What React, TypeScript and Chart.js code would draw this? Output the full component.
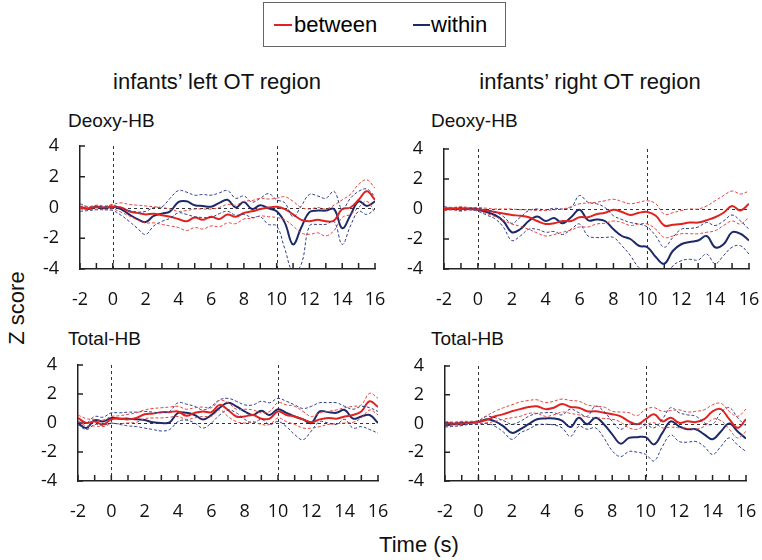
import React, { useEffect, useRef } from "react";
import { Chart, registerables } from "chart.js";

Chart.register(...registerables);

// ---------- data ----------
const TIME = [
  -2, -1.5, -1, -0.5, 0, 0.5, 1, 1.5, 2, 2.5, 3, 3.5, 4, 4.5, 5, 5.5, 6, 6.5, 7, 7.5,
  8, 8.5, 9, 9.5, 10, 10.5, 11, 11.5, 12, 12.5, 13, 13.5, 14, 14.5, 15, 15.5, 16,
];
const REF_LINES_X = [0, 10];
const X_RANGE = [-2, 16];
const Y_RANGE = [-4, 4];

const LEGEND_LABELS = ["between", "within"];
const COL_TITLES = ["infants\u2019 left OT region", "infants\u2019 right OT region"];
const ROW_TITLES = ["Deoxy-HB", "Total-HB"];
const Y_TITLE = "Z score";
const X_TITLE = "Time (s)";

// Panel 1: left OT, Deoxy-HB
const L_DEOXY_WITHIN = [0.05, -0.1, 0.05, -0.05, 0.05, -0.1, -0.45, -0.75, -0.95, -0.55, -0.4, -0.25, 0.35, 0.4, 0.15, 0.1, 0.05, 0.3, 0.5, 0.0, 0.35, -0.1, 0.15, -0.05, -0.25, -1.0, -2.4, -1.3, -0.3, -0.2, -0.2, -0.1, -1.35, -0.5, 0.4, 0.1, 0.4];
const L_DEOXY_WITHIN_HI = [0.25, 0.05, 0.1, 0.05, 0.15, -0.05, -0.2, -0.3, -0.25, 0.0, 0.05, 0.6, 1.1, 1.0, 0.8, 0.85, 0.8, 0.95, 1.1, 0.6, 0.75, 0.35, 0.6, 0.9, 0.5, 0.3, -0.6, 0.1, 0.85, 0.75, 0.6, 1.05, -0.1, 0.6, 1.05, 1.2, 0.7];
const L_DEOXY_WITHIN_LO = [-0.25, -0.2, -0.15, -0.15, -0.2, -0.5, -0.9, -1.35, -1.75, -1.2, -0.9, -0.7, -0.35, -0.45, -0.6, -0.65, -0.65, -0.4, -0.25, -0.5, -0.45, -0.65, -0.6, -1.1, -1.2, -2.7, -4.2, -3.7, -1.2, -1.1, -1.1, -0.9, -2.4, -1.2, -0.25, -0.45, -0.1];
const L_DEOXY_BETWEEN = [0.0, -0.05, 0.05, 0.0, 0.05, 0.0, -0.25, -0.35, -0.45, -0.4, -0.5, -0.6, -0.75, -0.9, -0.65, -0.8, -0.6, -0.75, -0.45, -0.6, -0.35, -0.25, -0.1, 0.0, 0.05, -0.1, -0.45, -0.8, -0.9, -0.8, -0.9, -0.85, -0.1, 0.0, 0.5, 1.05, 0.5];
const L_DEOXY_BETWEEN_HI = [0.1, 0.05, 0.15, 0.1, 0.2, 0.3, 0.2, 0.15, 0.1, 0.05, 0.0, -0.1, -0.25, -0.2, -0.1, -0.1, -0.1, 0.0, 0.2, 0.15, 0.4, 0.45, 0.6, 0.55, 0.6, 0.7, 0.4, 0.0, -0.1, 0.0, -0.1, 0.15, 0.5, 0.85, 1.5, 1.8, 1.25];
const L_DEOXY_BETWEEN_LO = [-0.1, -0.15, -0.1, -0.15, -0.1, -0.3, -0.55, -0.8, -1.0, -1.0, -1.1, -1.2, -1.3, -1.5, -1.3, -1.4, -1.2, -1.25, -1.0, -1.05, -0.75, -0.7, -0.55, -0.6, -0.65, -0.8, -1.2, -1.65, -1.75, -1.65, -1.85, -1.5, -0.65, -0.45, 0.0, 0.4, -0.35];

// Panel 2: right OT, Deoxy-HB
const R_DEOXY_WITHIN = [0.05, 0.0, 0.05, 0.0, -0.05, -0.2, -0.4, -0.8, -1.55, -1.35, -0.8, -0.5, -0.8, -0.6, -0.95, -0.55, -0.05, -0.75, -0.7, -0.8, -1.35, -1.8, -2.0, -2.45, -2.55, -3.2, -3.65, -2.8, -2.35, -2.2, -2.1, -1.8, -2.55, -2.35, -1.55, -1.65, -2.1];
const R_DEOXY_WITHIN_HI = [0.15, 0.1, 0.1, 0.05, 0.05, -0.05, -0.2, -0.5, -0.95, -0.55, -0.1, 0.0, -0.05, 0.05, 0.0, 0.1, 0.9, 0.45, 0.35, 0.1, -0.45, -0.7, -0.9, -1.0, -1.2, -1.8, -2.55, -1.9, -1.35, -1.3, -1.2, -0.9, -1.1, -0.8, -0.4, -0.8, -1.35];
const R_DEOXY_WITHIN_LO = [-0.1, -0.05, -0.1, -0.05, -0.15, -0.4, -0.65, -1.2, -2.1, -1.8, -1.35, -1.35, -1.55, -1.5, -1.7, -1.35, -1.0, -1.8, -1.9, -1.9, -1.9, -2.45, -3.1, -3.9, -4.1, -4.3, -4.7, -3.8, -3.45, -3.35, -3.4, -3.0, -3.65, -3.1, -2.55, -2.45, -3.0];
const R_DEOXY_BETWEEN = [0.0, 0.05, 0.0, 0.05, 0.0, -0.1, -0.2, -0.3, -0.4, -0.45, -0.55, -0.8, -1.0, -0.95, -0.8, -0.8, -0.55, -0.55, -0.35, -0.25, -0.05, -0.2, -0.4, -0.25, -0.2, -0.45, -1.1, -1.05, -1.0, -0.9, -0.9, -0.75, -0.55, -0.25, 0.2, -0.1, 0.35];
const R_DEOXY_BETWEEN_HI = [0.1, 0.1, 0.15, 0.1, 0.1, 0.05, 0.0, 0.0, 0.0, -0.05, -0.05, -0.1, -0.1, -0.05, 0.0, 0.15, 0.35, 0.4, 0.45, 0.55, 0.65, 0.5, 0.35, 0.45, 0.55, 0.35, -0.35, -0.25, -0.1, 0.0, 0.0, 0.2, 0.55, 0.9, 1.2, 1.0, 1.2];
const R_DEOXY_BETWEEN_LO = [-0.1, -0.05, -0.15, -0.05, -0.1, -0.3, -0.5, -0.75, -1.0, -1.15, -1.35, -1.6, -1.8, -1.7, -1.55, -1.4, -1.2, -1.2, -1.0, -0.95, -0.8, -0.9, -1.1, -1.0, -1.0, -1.35, -1.9, -1.8, -1.65, -1.65, -1.65, -1.55, -1.45, -1.1, -0.8, -1.0, -0.55];

// Panel 3: left OT, Total-HB
const L_TOTAL_WITHIN = [0.0, -0.35, 0.2, 0.1, 0.35, 0.3, 0.3, 0.25, 0.2, 0.05, 0.0, 0.05, 0.7, 0.7, 0.55, 0.25, 0.55, 1.05, 1.4, 1.15, 0.8, 0.55, 0.85, 0.55, 0.95, 0.7, 0.45, 0.25, 0.0, 0.8, 0.75, 0.7, 0.9, 0.3, 0.45, 0.55, 0.0];
const L_TOTAL_WITHIN_HI = [0.1, 0.0, 0.45, 0.4, 0.7, 0.7, 0.75, 0.75, 0.8, 0.75, 0.7, 0.8, 1.4, 1.3, 1.15, 0.9, 1.15, 1.6, 1.7, 1.5, 1.25, 1.25, 1.5, 1.4, 1.7, 1.5, 1.25, 1.0, 1.15, 1.4, 1.4, 1.4, 1.15, 0.95, 1.15, 1.05, 0.8];
const L_TOTAL_WITHIN_LO = [-0.1, -0.45, -0.1, -0.15, 0.0, -0.1, -0.2, -0.25, -0.35, -0.45, -0.55, -0.45, 0.1, 0.2, 0.0, -0.35, 0.0, 0.55, 0.9, 0.7, 0.25, 0.0, 0.25, -0.1, 0.1, -0.25, -0.8, -1.15, -0.55, 0.1, 0.0, -0.1, 0.25, -0.35, -0.25, -0.45, -0.7];
const L_TOTAL_BETWEEN = [0.35, 0.0, 0.1, -0.1, 0.25, 0.3, 0.25, 0.35, 0.6, 0.65, 0.75, 0.75, 0.8, 0.5, 0.7, 0.8, 0.75, 1.25, 0.9, 0.45, 0.45, 0.55, 0.3, 0.3, 0.8, 0.55, 0.45, 0.25, 0.05, 0.25, 0.35, 0.3, 0.45, 0.55, 0.8, 1.5, 1.1];
const L_TOTAL_BETWEEN_HI = [0.55, 0.3, 0.25, 0.2, 0.45, 0.5, 0.6, 0.7, 0.9, 1.0, 1.05, 1.1, 1.15, 0.95, 1.05, 1.1, 1.05, 1.55, 1.4, 0.95, 0.95, 0.9, 0.7, 0.8, 1.4, 1.25, 1.15, 0.8, 0.45, 0.7, 0.8, 0.9, 1.05, 1.15, 1.25, 2.05, 1.7];
const L_TOTAL_BETWEEN_LO = [0.1, -0.2, -0.2, -0.25, -0.05, -0.05, 0.0, 0.05, 0.3, 0.35, 0.35, 0.4, 0.45, 0.25, 0.35, 0.45, 0.45, 0.9, 0.45, 0.1, 0.0, 0.1, -0.1, -0.1, 0.35, 0.1, -0.1, -0.35, -0.35, -0.25, -0.1, -0.05, 0.0, 0.05, 0.35, 0.9, 0.55];

// Panel 4: right OT, Total-HB
const R_TOTAL_WITHIN = [-0.15, -0.05, -0.05, 0.05, 0.1, 0.3, 0.15, -0.2, -0.65, -0.4, -0.05, 0.3, 0.35, 0.35, 0.2, -0.25, 0.4, -0.05, 0.4, -0.05, -0.75, -1.4, -1.0, -0.95, -0.95, -1.45, -0.65, 0.15, -0.2, -0.4, -0.4, -0.75, -1.1, -0.55, 0.0, -0.55, -1.05];
const R_TOTAL_WITHIN_HI = [0.05, 0.05, 0.1, 0.1, 0.2, 0.5, 0.4, 0.2, -0.05, 0.15, 0.5, 0.7, 0.75, 0.75, 0.6, 1.0, 0.75, 0.5, 1.2, 0.85, 0.15, -0.4, -0.05, -0.05, -0.05, -0.3, 0.3, 1.1, 0.75, 0.6, 0.5, 0.05, -0.05, 0.75, 1.1, 0.4, -0.2];
const R_TOTAL_WITHIN_LO = [-0.25, -0.2, -0.15, -0.05, -0.05, 0.0, -0.2, -0.6, -1.1, -0.65, -0.4, -0.1, -0.05, -0.1, -0.3, -0.9, -0.2, -0.4, -0.3, -1.0, -1.9, -2.3, -1.95, -2.0, -2.15, -2.6, -1.6, -0.8, -1.25, -1.3, -1.25, -1.6, -2.15, -1.6, -1.0, -1.5, -1.95];
const R_TOTAL_BETWEEN = [0.05, 0.0, 0.05, 0.05, 0.1, 0.25, 0.5, 0.65, 0.85, 1.0, 1.15, 1.2, 1.0, 1.1, 1.35, 1.15, 1.1, 0.85, 0.85, 0.75, 0.65, 0.5, 0.15, -0.05, 0.3, 0.65, 0.15, 0.4, 0.05, 0.15, 0.1, 0.3, 0.85, 1.0, 0.3, -0.3, 0.3];
const R_TOTAL_BETWEEN_HI = [0.15, 0.1, 0.15, 0.15, 0.2, 0.55, 0.85, 1.1, 1.3, 1.5, 1.6, 1.65, 1.45, 1.55, 1.7, 1.6, 1.55, 1.3, 1.2, 1.15, 0.85, 0.8, 0.75, 0.55, 1.0, 1.1, 0.85, 0.9, 0.95, 0.8, 0.85, 0.95, 1.3, 1.4, 0.85, 0.5, 1.0];
const R_TOTAL_BETWEEN_LO = [-0.1, -0.1, -0.05, 0.0, 0.0, 0.05, 0.15, 0.3, 0.4, 0.5, 0.7, 0.7, 0.5, 0.6, 0.8, 0.7, 0.6, 0.45, 0.4, 0.35, 0.3, 0.1, -0.3, -0.4, -0.1, 0.05, -0.3, -0.25, -0.3, -0.35, -0.4, -0.2, 0.3, 0.2, -0.4, -1.0, -0.55];

// ---------- styles ----------
const RED = "#e0231f";
const RED_DASH = "#e5413c";
const NAVY = "#1d2a6a";
const NAVY_DASH = "#2f3f8a";
const AXIS = "#222";
const REF = "#333";
const TICK_FONT = { family: "'Open Sans', sans-serif", size: 18 };
const SANS = "'Liberation Sans', Arial, sans-serif";

type Area = { l: number; t: number; r: number; b: number };
type Series = { w: number[]; wHi: number[]; wLo: number[]; b: number[]; bHi: number[]; bLo: number[] };

const PANELS: { area: Area; s: Series }[] = [
  { area: { l: 80, t: 146, r: 375, b: 269 }, s: { w: L_DEOXY_WITHIN, wHi: L_DEOXY_WITHIN_HI, wLo: L_DEOXY_WITHIN_LO, b: L_DEOXY_BETWEEN, bHi: L_DEOXY_BETWEEN_HI, bLo: L_DEOXY_BETWEEN_LO } },
  { area: { l: 444, t: 149, r: 749, b: 269 }, s: { w: R_DEOXY_WITHIN, wHi: R_DEOXY_WITHIN_HI, wLo: R_DEOXY_WITHIN_LO, b: R_DEOXY_BETWEEN, bHi: R_DEOXY_BETWEEN_HI, bLo: R_DEOXY_BETWEEN_LO } },
  { area: { l: 78, t: 365, r: 378, b: 481 }, s: { w: L_TOTAL_WITHIN, wHi: L_TOTAL_WITHIN_HI, wLo: L_TOTAL_WITHIN_LO, b: L_TOTAL_BETWEEN, bHi: L_TOTAL_BETWEEN_HI, bLo: L_TOTAL_BETWEEN_LO } },
  { area: { l: 445, t: 366, r: 746, b: 481 }, s: { w: R_TOTAL_WITHIN, wHi: R_TOTAL_WITHIN_HI, wLo: R_TOTAL_WITHIN_LO, b: R_TOTAL_BETWEEN, bHi: R_TOTAL_BETWEEN_HI, bLo: R_TOTAL_BETWEEN_LO } },
];

const toPts = (vals: number[]) => TIME.map((t, i) => ({ x: t, y: vals[i] }));

const refPlugin = {
  id: "refLines",
  beforeDatasetsDraw(chart: any) {
    const { ctx, chartArea: a, scales } = chart;
    const x = scales.x;
    const y = scales.y;
    ctx.save();
    ctx.strokeStyle = REF;
    ctx.lineWidth = 1;
    ctx.setLineDash([3, 3]);
    for (const v of REF_LINES_X) {
      const px = Math.round(x.getPixelForValue(v)) + 0.5;
      ctx.beginPath();
      ctx.moveTo(px, a.top);
      ctx.lineTo(px, a.bottom);
      ctx.stroke();
    }
    const py = Math.round(y.getPixelForValue(0)) + 0.5;
    ctx.beginPath();
    ctx.moveTo(a.left, py);
    ctx.lineTo(a.right, py);
    ctx.stroke();
    ctx.setLineDash([]);
    // inner tick marks
    ctx.strokeStyle = AXIS;
    ctx.lineWidth = 1.5;
    for (let v = Math.ceil(x.min); v <= x.max; v += 1) {
      const px = x.getPixelForValue(v);
      ctx.beginPath();
      ctx.moveTo(px, a.bottom);
      ctx.lineTo(px, a.bottom - 6);
      ctx.stroke();
    }
    for (let v = y.min; v <= y.max; v += 2) {
      const py2 = y.getPixelForValue(v);
      ctx.beginPath();
      ctx.moveTo(a.left, py2);
      ctx.lineTo(a.left + 5, py2);
      ctx.stroke();
    }
    ctx.restore();
  },
};

// Layout paddings (must exceed Chart.js label padding + half label size)
const PADL = 60;
const PADT = 36;
const PADR = 36;
const XH = 50;

function Panel({ area, s }: { area: Area; s: Series }) {
  const ref = useRef<HTMLCanvasElement>(null);
  const w = area.r - area.l + PADL + PADR;
  const h = area.b - area.t + PADT + XH;
  useEffect(() => {
    if (!ref.current) return;
    const dash = (data: number[], color: string) => ({
      data: toPts(data),
      borderColor: color,
      borderWidth: 1,
      borderDash: [3, 2],
      pointRadius: 0,
      tension: 0.4,
      fill: false,
    });
    const solid = (data: number[], color: string) => ({
      data: toPts(data),
      borderColor: color,
      borderWidth: 2,
      pointRadius: 0,
      tension: 0.4,
      fill: false,
    });
    const chart = new Chart(ref.current, {
      type: "line",
      data: {
        datasets: [
          dash(s.bHi, RED_DASH),
          dash(s.bLo, RED_DASH),
          dash(s.wHi, NAVY_DASH),
          dash(s.wLo, NAVY_DASH),
          solid(s.b, RED),
          solid(s.w, NAVY),
        ] as any,
      },
      options: {
        animation: false,
        responsive: false,
        maintainAspectRatio: false,
        layout: { padding: { top: PADT, right: PADR, left: 0, bottom: 0 } },
        plugins: { legend: { display: false }, tooltip: { enabled: false } },
        scales: {
          x: {
            type: "linear",
            min: X_RANGE[0],
            max: X_RANGE[1],
            afterFit: (sc: any) => {
              sc.height = XH;
            },
            grid: { display: true, drawOnChartArea: false, drawTicks: false },
            border: { display: true, color: AXIS, width: 1.5 },
            ticks: { stepSize: 2, padding: 20, font: TICK_FONT, color: "#111", maxRotation: 0, autoSkip: false },
          },
          y: {
            type: "linear",
            min: Y_RANGE[0],
            max: Y_RANGE[1],
            afterFit: (sc: any) => {
              sc.width = PADL;
            },
            grid: { display: true, drawOnChartArea: false, drawTicks: false },
            border: { display: true, color: AXIS, width: 1.5 },
            ticks: { stepSize: 2, padding: 21, font: TICK_FONT, color: "#111" },
          },
        },
      } as any,
      plugins: [refPlugin],
    });
    return () => chart.destroy();
  }, []);
  return (
    <canvas
      ref={ref}
      width={w}
      height={h}
      style={{ position: "absolute", left: area.l - PADL, top: area.t - PADT, width: w, height: h }}
    />
  );
}

function Text({ x, y, size, children, rotate }: { x: number; y: number; size: number; children: React.ReactNode; rotate?: boolean }) {
  return (
    <div
      style={{
        position: "absolute",
        left: x,
        top: y,
        transform: `translate(-50%, -50%)${rotate ? " rotate(-90deg)" : ""}`,
        fontFamily: SANS,
        fontSize: size,
        lineHeight: 1,
        whiteSpace: "nowrap",
        color: "#111",
      }}
    >
      {children}
    </div>
  );
}

function LeftText({ x, y, size, children }: { x: number; y: number; size: number; children: React.ReactNode }) {
  return (
    <div
      style={{
        position: "absolute",
        left: x,
        top: y,
        transform: "translateY(-50%)",
        fontFamily: SANS,
        fontSize: size,
        lineHeight: 1,
        whiteSpace: "nowrap",
        color: "#111",
      }}
    >
      {children}
    </div>
  );
}

export default function App() {
  return (
    <div style={{ position: "absolute", left: 0, top: 0, width: 762, height: 560, background: "#fff", overflow: "hidden" }}>
      {/* legend */}
      <div
        style={{
          position: "absolute",
          left: 263,
          top: 2,
          width: 243,
          height: 45,
          border: "1px solid #666",
          boxSizing: "border-box",
        }}
      >
        <div style={{ position: "absolute", left: 10, top: 21, width: 18, height: 2, background: RED }} />
        <div style={{ position: "absolute", left: 30, top: 22, transform: "translateY(-50%)", fontFamily: SANS, fontSize: 22, lineHeight: 1 }}>
          {LEGEND_LABELS[0]}
        </div>
        <div style={{ position: "absolute", left: 149, top: 21, width: 17, height: 2, background: NAVY }} />
        <div style={{ position: "absolute", left: 167, top: 22, transform: "translateY(-50%)", fontFamily: SANS, fontSize: 22, lineHeight: 1 }}>
          {LEGEND_LABELS[1]}
        </div>
      </div>

      <Text x={217} y={82} size={22}>{COL_TITLES[0]}</Text>
      <Text x={590} y={82} size={22}>{COL_TITLES[1]}</Text>
      <LeftText x={68} y={120} size={19}>{ROW_TITLES[0]}</LeftText>
      <LeftText x={431} y={120} size={19}>{ROW_TITLES[0]}</LeftText>
      <LeftText x={68} y={338} size={19}>{ROW_TITLES[1]}</LeftText>
      <LeftText x={431} y={338} size={19}>{ROW_TITLES[1]}</LeftText>
      <Text x={17} y={308} size={22} rotate>{Y_TITLE}</Text>
      <Text x={419} y={545} size={22}>{X_TITLE}</Text>

      {PANELS.map((p, i) => (
        <Panel key={i} area={p.area} s={p.s} />
      ))}
    </div>
  );
}
